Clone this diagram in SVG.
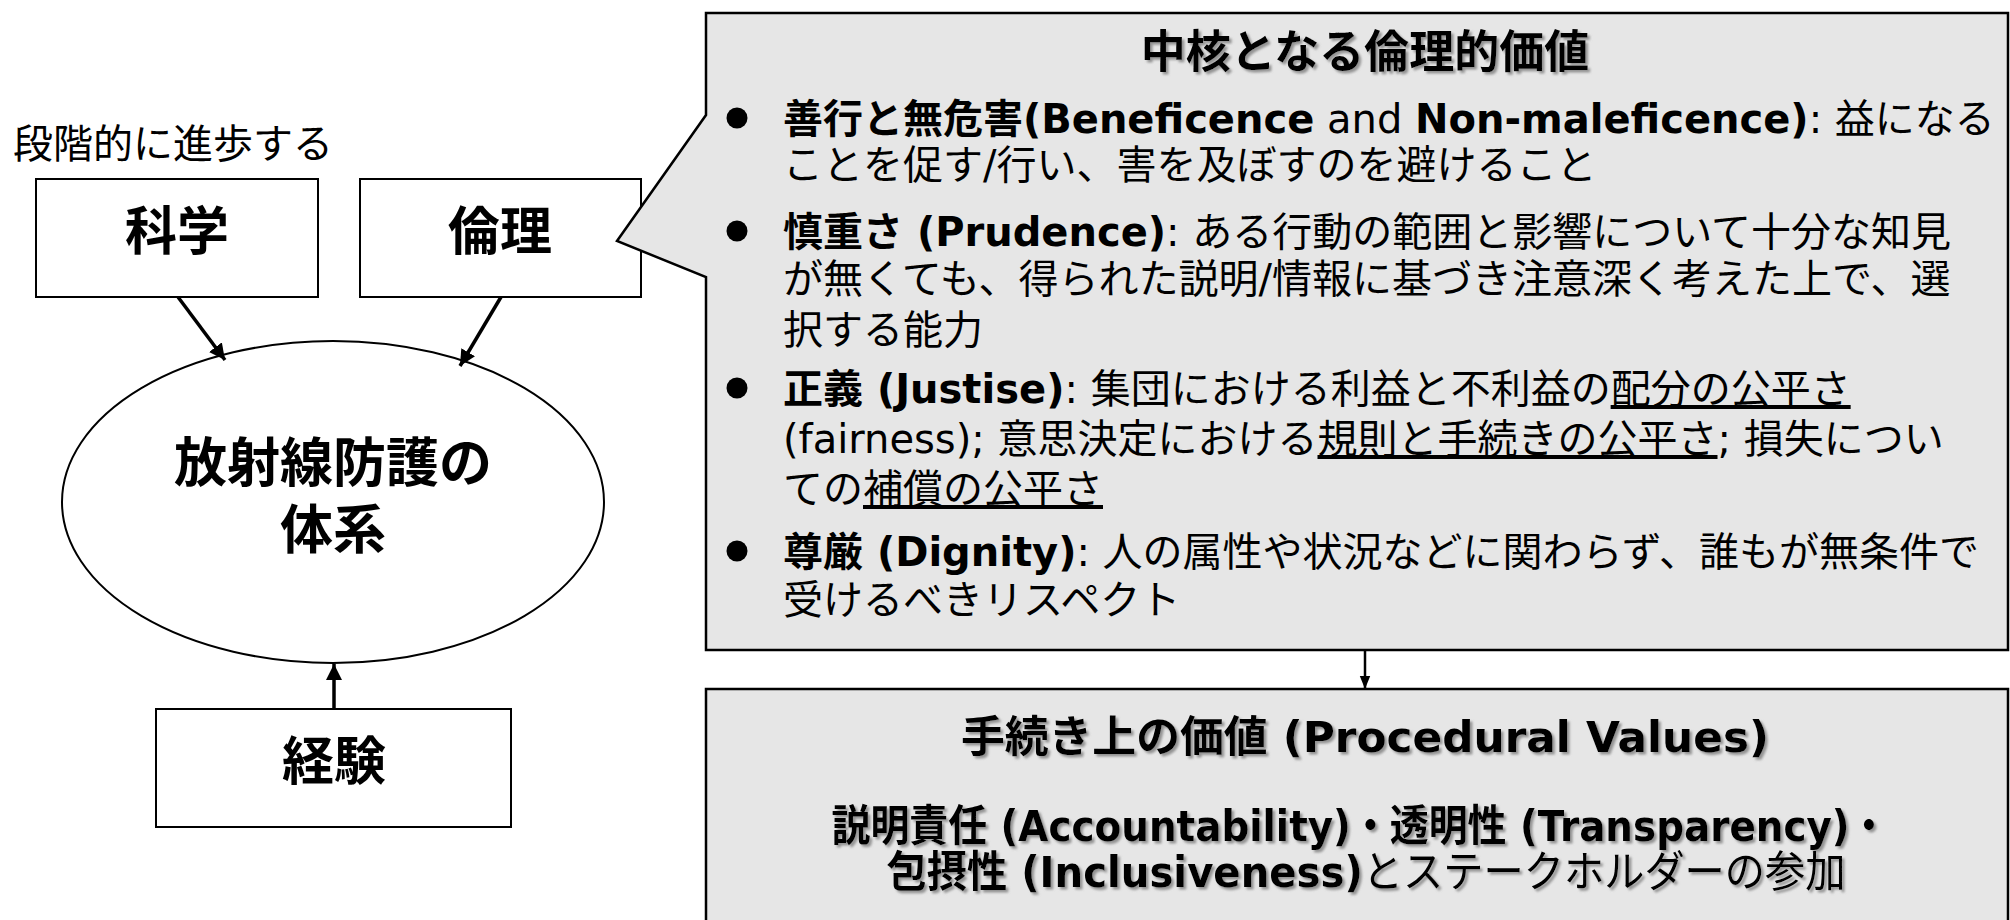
<svg xmlns="http://www.w3.org/2000/svg" width="2010" height="920" viewBox="0 0 2010 920">
<defs>
<style>
.box{fill:#ffffff;stroke:#000000;stroke-width:2}
.panel{fill:#e6e6e6;stroke:#000000;stroke-width:2.5}
.big{font-family:"Noto Sans CJK JP",sans-serif;font-weight:700;fill:#000000}
.body{font-family:"DejaVu Sans","Noto Sans CJK JP",sans-serif;font-size:40px;fill:#000000}
.b{font-weight:700}
.u{text-decoration:underline}
.title{font-family:"Noto Sans CJK JP",sans-serif;font-weight:700;font-size:45px;fill:#000000}
.ptitle{font-family:"DejaVu Sans","Noto Sans CJK JP",sans-serif;font-size:43px;fill:#000000}
.conn{stroke:#000000;fill:none}
.dot{fill:#000000}
</style>
<filter id="shadow" filterUnits="userSpaceOnUse" x="0" y="0" width="2010" height="920">
<feDropShadow dx="2.5" dy="2.5" stdDeviation="1.2" flood-color="#7f7f7f" flood-opacity="0.8"/>
</filter>
<marker id="ah" viewBox="0 0 10 10" refX="10" refY="5" markerWidth="16" markerHeight="16" markerUnits="userSpaceOnUse" orient="auto">
<path d="M0,0 L10,5 L0,10 Z" fill="#000000"/>
</marker>
<marker id="ah2" viewBox="0 0 10 10" refX="10" refY="5" markerWidth="13" markerHeight="13" markerUnits="userSpaceOnUse" orient="auto">
<path d="M0,1 L10,5 L0,9 Z" fill="#000000"/>
</marker>
</defs>
<rect width="2010" height="920" fill="#ffffff"/>

<g id="label-progress">
<text x="13" y="158" font-family="'Noto Sans CJK JP',sans-serif" font-size="40" fill="#000000">段階的に進歩する</text>
</g>

<g id="node-science">
<rect class="box" x="36" y="179" width="282" height="118"/>
<text class="big" x="177" y="250" font-size="52" text-anchor="middle">科学</text>
</g>

<g id="node-ethics">
<rect class="box" x="360" y="179" width="281" height="118"/>
<text class="big" x="500" y="250" font-size="52" text-anchor="middle">倫理</text>
</g>

<g id="node-system">
<ellipse class="box" cx="333" cy="502" rx="271" ry="161"/>
<text class="big" font-size="53" text-anchor="middle"><tspan x="333" y="482">放射線防護の</tspan><tspan x="333" y="549">体系</tspan></text>
</g>

<g id="node-experience">
<rect class="box" x="156" y="709" width="355" height="118"/>
<text class="big" x="334" y="780" font-size="52" text-anchor="middle">経験</text>
</g>

<g id="node-core-values">
<path class="panel" d="M706,13 H2008 V650 H706 V277 L617,241 L706,115 Z"/>
<text class="title" x="1365" y="68" text-anchor="middle" filter="url(#shadow)">中核となる倫理的価値</text>
<circle class="dot" cx="737" cy="118" r="10.5"/>
<circle class="dot" cx="737" cy="231" r="10.5"/>
<circle class="dot" cx="737" cy="388" r="10.5"/>
<circle class="dot" cx="737" cy="551" r="10.5"/>
<text class="body" x="783" y="133"><tspan class="b">善行と無危害(Beneficence</tspan> and <tspan class="b">Non-maleficence)</tspan>: 益になる</text>
<text class="body" x="783" y="179">ことを促す/行い、害を及ぼすのを避けること</text>
<text class="body" x="783" y="246"><tspan class="b">慎重さ (Prudence)</tspan>: ある行動の範囲と影響について十分な知見</text>
<text class="body" x="783" y="293">が無くても、得られた説明/情報に基づき注意深く考えた上で、選</text>
<text class="body" x="783" y="344">択する能力</text>
<text class="body" x="783" y="403"><tspan class="b">正義 (Justise)</tspan>: 集団における利益と不利益の<tspan class="u">配分の公平さ</tspan></text>
<text class="body" x="783" y="453">(fairness); 意思決定における<tspan class="u">規則と手続きの公平さ</tspan>; 損失につい</text>
<text class="body" x="783" y="503">ての<tspan class="u">補償の公平さ</tspan></text>
<text class="body" x="783" y="566"><tspan class="b">尊厳 (Dignity)</tspan>: 人の属性や状況などに関わらず、誰もが無条件で</text>
<text class="body" x="783" y="614">受けるべきリスペクト</text>
</g>

<g id="node-procedural">
<rect class="panel" x="706" y="689" width="1302" height="240"/>
<g filter="url(#shadow)">
<text class="ptitle b" x="1365" y="752" font-size="47" text-anchor="middle" textLength="808" lengthAdjust="spacingAndGlyphs">手続き上の価値 (Procedural Values)</text>
<text class="ptitle b" x="1360" y="841" text-anchor="middle" textLength="1057" lengthAdjust="spacingAndGlyphs">説明責任 (Accountability)・透明性 (Transparency)・</text>
<text class="ptitle" x="1366" y="887" text-anchor="middle" textLength="959" lengthAdjust="spacingAndGlyphs"><tspan class="b">包摂性 (Inclusiveness)</tspan>とステークホルダーの参加</text>
</g>
</g>

<g id="connectors">
<line class="conn" x1="178" y1="297" x2="225" y2="360" stroke-width="3.5" marker-end="url(#ah)"/>
<line class="conn" x1="501" y1="297" x2="460" y2="366" stroke-width="3.5" marker-end="url(#ah)"/>
<line class="conn" x1="334" y1="709" x2="334" y2="664" stroke-width="3.5" marker-end="url(#ah)"/>
<line class="conn" x1="1365" y1="650" x2="1365" y2="689" stroke-width="2.5" marker-end="url(#ah2)"/>
</g>
</svg>
